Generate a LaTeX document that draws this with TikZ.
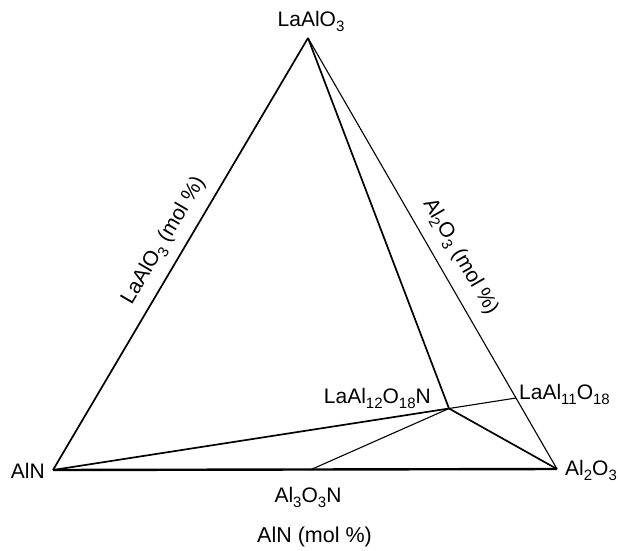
\documentclass[tikz,border=0pt]{standalone}
\usepackage{fontspec}
\setmainfont{Liberation Sans}
% subscript digits: smaller and dropped below the baseline
\newcommand{\sbs}[1]{\raisebox{-5pt}{\fontsize{15}{15}\selectfont #1}}
\begin{document}
\begin{tikzpicture}[x=1pt,y=-1pt,
  lbl/.style={font=\fontsize{21}{24}\selectfont, inner sep=0pt},
  axlbl/.style={font=\fontsize{21.5}{24}\selectfont, inner sep=0pt},
  thickline/.style={line width=2.4pt},
  midline/.style={line width=1.7pt},
  thinline/.style={line width=1.1pt}]
\useasboundingbox (0,0) rectangle (618,551);
% corners of the ternary diagram
\coordinate (top) at (308,38);
\coordinate (aln) at (53,470);
\coordinate (alo) at (557,469);
% compositions on the edges and inside
\coordinate (lal11) at (516,398);
\coordinate (lal12) at (449,408.5);
\coordinate (al3) at (310,470);
% triangle edges
\draw[midline] (aln) -- (top);
\draw[thinline] (top) -- (alo);
\draw[thickline] (aln) -- (alo);
% tie lines
\draw[midline] (top) -- (lal12);
\draw[midline] (aln) -- (lal12);
\draw[thinline] (lal12) -- (lal11);
\draw[midline] (lal12) -- (alo);
\draw[thinline] (lal12) -- (al3);
% labels of the compositions
\node[lbl, anchor=base] (ltop) at (311,27) {LaAlO\sbs{3}};
\node[lbl, anchor=base east] (laln) at (45,478) {AlN};
\node[lbl, anchor=base west] (lalo) at (565,475) {Al\sbs{2}O\sbs{3}};
\node[lbl, anchor=base west] (l11) at (519,399) {LaAl\sbs{11}O\sbs{18}};
\node[lbl, anchor=base east] (l12) at (431,403) {LaAl\sbs{12}O\sbs{18}N};
\node[lbl, anchor=base] (l3) at (308,502) {Al\sbs{3}O\sbs{3}N};
% axis labels
\node[axlbl, anchor=base] (axb) at (314.5,542) {AlN (mol \%)};
\node[lbl, rotate=59.5] (axl) at (164,241) {LaAlO\sbs{3} (mol \%)};
\node[lbl, rotate=-60] (axr) at (460,257) {Al\sbs{2}O\sbs{3} (mol \%)};
\end{tikzpicture}
\end{document}
